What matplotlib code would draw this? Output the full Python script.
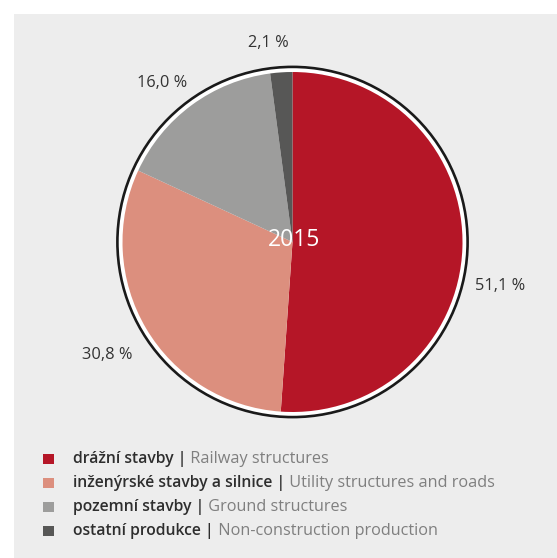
import numpy as np
import matplotlib.pyplot as plt
from matplotlib.patches import Rectangle, Circle

# data
shares = [51.1, 30.8, 16.0, 2.1]
labels = ['51,1 %', '30,8 %', '16,0 %', '2,1 %']
names_cz = ['drážní stavby |', 'inženýrské stavby a silnice |', 'pozemní stavby |', 'ostatní produkce |']
names_en = ['Railway structures', 'Utility structures and roads', 'Ground structures', 'Non-construction production']
colors = ['#b51627', '#dc8f7e', '#9d9d9c', '#575756']
year = '2015'

plt.rcParams['font.family'] = ['Open Sans', 'DejaVu Sans']

W, H = 557, 558
fig = plt.figure(figsize=(W / 100, H / 100), dpi=100, facecolor='white')
# grey panel
fig.patches.append(Rectangle((14 / W, 0), 1, 1 - 14 / H, transform=fig.transFigure,
                             facecolor='#ededed', edgecolor='none', zorder=-1))
ax = fig.add_axes([0, 0, 1, 1])

cx, cy, R = 292.5, 316, 170

# outer ring with white gap
ax.add_patch(Circle((cx, cy), R * 1.03, facecolor='white', edgecolor='#1a1a1a', lw=1.9, zorder=1))
wedges, _ = ax.pie(shares, colors=colors, startangle=90, counterclock=False,
                   radius=R, center=(cx, cy), frame=True,
                   wedgeprops=dict(linewidth=0, zorder=2))
ax.set_xlim(0, W)
ax.set_ylim(0, H)
ax.axis('off')

# value labels (distance factor, angle nudge)
lab_dist = [1.25, 1.28, 1.21, 1.18]
lab_shift = [-10, 0.8, 3, 3]
for w, lab, d, s in zip(wedges, labels, lab_dist, lab_shift):
    mid = np.deg2rad((w.theta1 + w.theta2) / 2 + s)
    ax.text(cx + d * R * np.cos(mid), cy + d * R * np.sin(mid), lab,
            ha='center', va='center', fontsize=11.8, color='#333333')

ax.text(cx + 2, cy + 2, year, ha='center', va='center', fontsize=16.5, color='white', zorder=5)

# legend
row_y = 99 - 24 * np.arange(len(names_cz))
ax.scatter(np.full(len(row_y), 48.3), row_y, marker='s', s=58, c=colors, linewidths=0, zorder=3)
for y, cz, en in zip(row_y, names_cz, names_en):
    t1 = ax.text(73, y, cz, ha='left', va='center', fontsize=11.3, color='#2e2e2e', fontweight='semibold')
    ax.annotate(' ' + en, xy=(1, 0), xycoords=t1, ha='left', va='bottom',
                fontsize=11.7, color='#7f7f7f')

fig.savefig('out.png', dpi=100, facecolor='white')
